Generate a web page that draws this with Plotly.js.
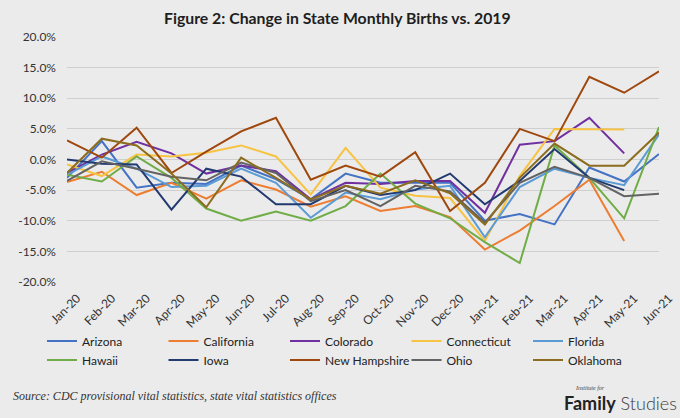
<!DOCTYPE html>
<html>
<head>
<meta charset="utf-8">
<script src="https://cdn.plot.ly/plotly-3.0.1.min.js"></script>
<style>html,body{margin:0;padding:0;background:#ebebeb;}#chart{width:680px;height:418px;}</style>
</head>
<body>
<div id="chart"></div>
<script>
const months = ["Jan-20","Feb-20","Mar-20","Apr-20","May-20","Jun-20","Jul-20","Aug-20","Sep-20","Oct-20","Nov-20","Dec-20","Jan-21","Feb-21","Mar-21","Apr-21","May-21","Jun-21"];

const arizona      = [-3.0, 3.0, -4.6, -3.8, -4.0, -1.0, -3.2, -6.5, -2.3, -3.8, -3.8, -3.8, -10.0, -8.9, -10.6, -1.3, -3.6, 0.9];
const california   = [-3.7, -2.0, -5.8, -3.8, -6.4, -3.4, -4.9, -7.7, -6.0, -8.4, -7.6, -9.4, -14.7, -11.6, -7.6, -3.3, -13.3, null];
const colorado     = [-2.2, 0.8, 2.9, 1.0, -2.3, -1.0, -1.9, -6.5, -3.8, -4.0, -3.5, -3.5, -8.7, 2.4, 3.0, 6.8, 1.0, null];
const connecticut  = [-0.8, -2.7, 0.8, 0.5, 1.1, 2.3, 0.5, -5.7, 1.9, -4.6, -5.9, -6.3, -13.3, -2.7, 5.0, 5.0, 4.9, null];
const florida      = [-2.5, 0.5, -1.5, -4.5, -4.3, -1.5, -3.8, -9.5, -5.4, -6.5, -4.9, -4.3, -12.7, -4.5, -1.5, -3.0, -4.2, 4.1];
const hawaii       = [-2.5, -3.6, 0.5, -3.0, -8.0, -10.0, -8.5, -10.0, -7.6, -2.3, -7.2, -9.6, -13.5, -16.9, 2.3, -3.0, -9.6, 5.3];
const iowa         = [0.0, -0.7, -0.8, -8.2, -1.5, -2.8, -7.3, -7.3, -4.3, -5.8, -5.0, -2.3, -7.3, -3.5, 1.7, -3.0, -5.0, null];
const newHampshire = [3.1, 0.3, 5.2, -2.2, 1.3, 4.6, 6.8, -3.3, -1.0, -2.8, 1.2, -8.4, -3.8, 5.0, 3.0, 13.5, 10.9, 14.4];
const ohio         = [-3.5, -0.3, -1.5, -2.8, -3.4, -0.5, -2.2, -6.8, -5.0, -7.6, -4.3, -5.2, -10.3, -3.8, -1.2, -3.0, -6.0, -5.6];
const oklahoma     = [-2.2, 3.4, 2.3, -2.3, -7.8, 0.3, -3.0, -6.5, -4.3, -5.6, -3.4, -5.5, -10.6, -3.0, 2.6, -1.0, -1.0, 4.4];

const yTicks = [-20, -15, -10, -5, 0, 5, 10, 15, 20];

const seriesDefs = [
  ["Arizona", arizona, "#4472c4"],
  ["California", california, "#ed7d31"],
  ["Colorado", colorado, "#7030a0"],
  ["Connecticut", connecticut, "#f7c343"],
  ["Florida", florida, "#5b9bd5"],
  ["Hawaii", hawaii, "#70ad47"],
  ["Iowa", iowa, "#223a70"],
  ["New Hampshire", newHampshire, "#9e480e"],
  ["Ohio", ohio, "#636363"],
  ["Oklahoma", oklahoma, "#8c6d1f"]
];

const traces = seriesDefs.map(([name, vals, color]) => ({
  type: "scatter",
  mode: "lines",
  name: name,
  x: months,
  y: vals,
  line: {color: color, width: 2},
  hoverinfo: "x+y+name"
}));

const baseFont = "Lato, 'Open Sans', sans-serif";
const plotL = 67, plotW = 592, plotT = 36.7, plotH = 245.6;

const layout = {
  width: 680,
  height: 418,
  paper_bgcolor: "#ebebeb",
  plot_bgcolor: "#ebebeb",
  margin: {l: plotL, r: 21, t: plotT, b: 135.7, pad: 0},
  title: {
    text: "<b>Figure 2: Change in State Monthly Births vs. 2019</b>",
    font: {family: baseFont, size: 15.8, color: "#1e1e1e"},
    x: 164/680, xanchor: "left", xref: "container",
    y: 1 - 18/418, yanchor: "middle", yref: "container"
  },
  xaxis: {
    type: "category",
    tickangle: -45,
    tickfont: {family: baseFont, size: 12, color: "#333"},
    showgrid: false,
    zeroline: false,
    showline: false,
    ticks: "",
    ticklabelstandoff: 6,
    ticklabelshift: 10,
    fixedrange: true
  },
  yaxis: {
    range: [-20, 20],
    tickvals: yTicks,
    ticktext: yTicks.map(v => v.toFixed(1) + "%"),
    tickfont: {family: baseFont, size: 12, color: "#333"},
    gridcolor: "#cfcfcf",
    gridwidth: 1.4,
    zeroline: false,
    showline: false,
    ticks: "",
    ticklabelstandoff: 10,
    fixedrange: true
  },
  showlegend: true,
  legend: {
    orientation: "h",
    xref: "paper", yref: "paper",
    x: (42 - plotL) / plotW, xanchor: "left",
    y: -(327 - (plotT + plotH)) / plotH, yanchor: "top",
    entrywidth: 76.5,
    entrywidthmode: "pixels",
    font: {family: baseFont, size: 12, color: "#222"},
    bgcolor: "rgba(0,0,0,0)",
    traceorder: "normal",
    itemwidth: 30
  },
  annotations: [
    {
      xref: "paper", yref: "paper",
      x: 0, y: 0, showarrow: false,
      text: "<i>Source: CDC provisional vital statistics, state vital statistics offices</i>",
      font: {family: "'Liberation Serif', 'DejaVu Serif', serif", size: 12, color: "#333"},
      xanchor: "left", yanchor: "middle",
      xshift: -56, yshift: -(396.5 - 282.3)
    },
    {
      xref: "paper", yref: "paper",
      x: 1, y: 0, showarrow: false,
      text: "<b>Family</b><span style=\"font-weight:300;color:#3a3a3a\"> Studies</span>",
      font: {family: "Lato, 'Open Sans', sans-serif", size: 18, color: "#222"},
      xanchor: "right", yanchor: "middle",
      xshift: 20, yshift: -(403 - 282.3)
    },
    {
      xref: "paper", yref: "paper",
      x: 1, y: 0, showarrow: false,
      text: "<i>Institute for</i>",
      font: {family: "'Liberation Serif', serif", size: 6, color: "#444"},
      xanchor: "left", yanchor: "middle",
      xshift: 573 - 659, yshift: -(388 - 282.3)
    }
  ]
};

Plotly.newPlot("chart", traces, layout, {displayModeBar: false, responsive: false});
</script>
</body>
</html>
